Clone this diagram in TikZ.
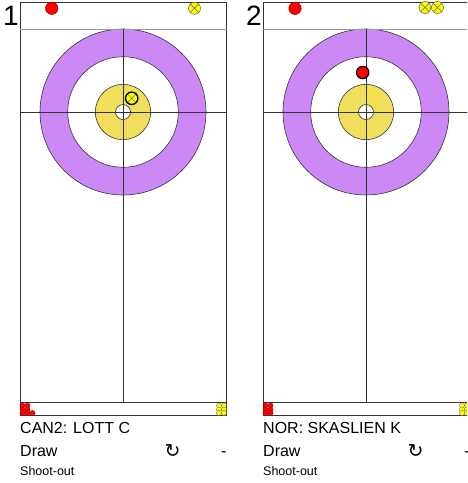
\documentclass[tikz,border=0pt]{standalone}
\usepackage{fontspec}
\setmainfont{Liberation Sans}
\newfontfamily\symfont{DejaVu Sans}
\definecolor{twelve}{RGB}{204,136,244}
\definecolor{four}{RGB}{240,222,92}
\definecolor{redstone}{RGB}{255,0,0}
\definecolor{yellowstone}{RGB}{255,255,0}
\definecolor{lines}{HTML}{333333}
\definecolor{backline}{HTML}{9A9A9A}

\tikzset{
  ring/.style={draw=lines, line width=0.6pt},
  rstone/.style={fill=redstone, draw=red!55!black, line width=0.5pt},
  ystone/.style={fill=yellowstone, draw=lines!80, line width=0.5pt},
  spare/.style={line width=0.3pt},
  lbl/.style={anchor=base west, inner sep=0pt, font=\fontsize{16}{18}\selectfont},
  xstone/.pic={
    \filldraw[ystone] (0,0) circle (6);
    \draw[lines!75, line width=0.5pt] (-4.2,-4.2) -- (4.2,4.2) (-4.2,4.2) -- (4.2,-4.2);
  }
}

\begin{document}
\begin{tikzpicture}[x=1pt, y=-1pt]
  \useasboundingbox (0,0) rectangle (467,483);
  \clip (0,0) rectangle (467,483);
  \fill[white] (0,0) rectangle (467,483);

  % Sheets and houses
  \foreach \sx/\n/\team in {0/1/CAN2: LOTT C, 243/2/NOR: SKASLIEN K} {
    \begin{scope}[xshift=\sx pt]
      \draw[lines, line width=0.8pt] (20,2.5) rectangle (226.5,415);
      \coordinate (tee-\n) at (123,112);
      \filldraw[ring, fill=twelve] (tee-\n) circle (83);
      \filldraw[ring, fill=white] (tee-\n) circle (55.3);
      \filldraw[ring, fill=four] (tee-\n) circle (27.7);
      \filldraw[ring, fill=white] (tee-\n) circle (7.5);
      \draw[backline, line width=1.3pt] (20,29.3) -- (226.5,29.3);
      \draw[lines, line width=0.7pt] (20,112) -- (226.5,112);
      \draw[lines, line width=0.7pt] (123,29.3) -- (123,402.3);
      \draw[lines, line width=0.8pt] (20,402.3) -- (226.5,402.3);

      % Labels under the sheet
      \node[lbl, font=\fontsize{28}{30}\selectfont] (num-\n) at (3,25) {\n};
      \node[lbl] (team-\n) at (20,433) {\team};
      \node[lbl] (result-\n) at (20,456) {Draw};
      \node[lbl, font=\fontsize{19}{20}\selectfont\symfont] (turn-\n) at (164.5,457) {↻};
      \node[lbl] (score-\n) at (221,456) {-};
      \node[lbl, font=\fontsize{12.5}{14}\selectfont] (kind-\n) at (20,475) {Shoot-out};
    \end{scope}
  }

  % Stones already played (top band)
  \filldraw[rstone] (51.7,8.3) circle (6.2);
  \filldraw[rstone] (295,8.3) circle (6.2);
  \pic at (194.5,8.3) {xstone};
  \pic at (425,7.5) {xstone};
  \pic at (437.5,7.5) {xstone};

  % Stones in the house
  \pic at (131.7,98.3) {xstone};
  \draw[black, line width=1.3pt] (131.7,98.3) circle (6.2);
  \filldraw[fill=redstone, draw=black, line width=1.1pt] (362.7,72.5) circle (6.2);
  \draw[yellowstone!85!orange, line width=0.6pt] (373.3,97.7) circle (6);

  % Stones still to play (bottom band)
  \foreach \x/\y in {22.5/405.5, 27.5/405.5, 22.5/409.5, 27.5/409.5, 22.5/413, 27.5/413, 32.5/413,
                     265.5/405.5, 270.5/405.5, 265.5/409.5, 270.5/409.5, 265.5/413, 270.5/413} {
    \filldraw[rstone, spare] (\x,\y) circle (2.6);
  }
  \foreach \x/\y in {219/405.5, 224/405.5, 219/409.5, 224/409.5, 219/413, 224/413,
                     462/405.5, 467/405.5, 462/409.5, 467/409.5, 462/413, 467/413} {
    \filldraw[ystone, spare] (\x,\y) circle (2.6);
  }
\end{tikzpicture}
\end{document}
